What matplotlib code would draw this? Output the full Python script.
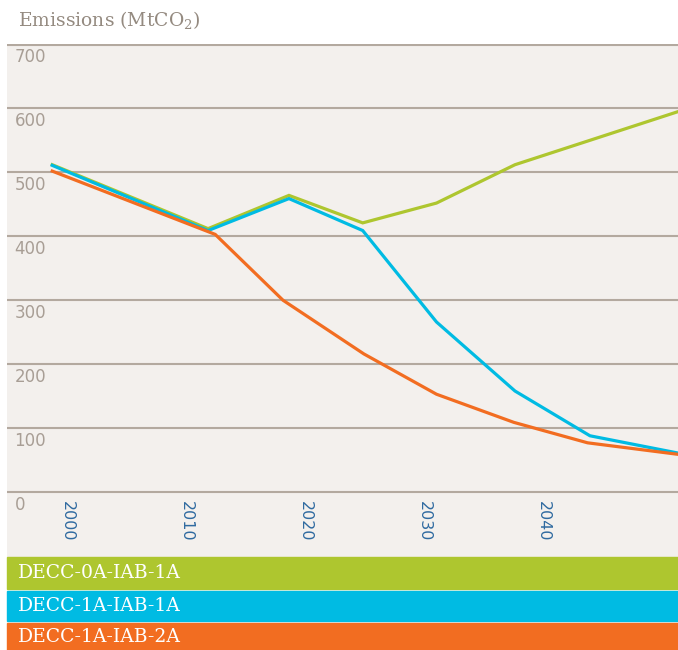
import matplotlib.pyplot as plt
from matplotlib.patches import Rectangle
from matplotlib.transforms import blended_transform_factory

plt.rcParams['mathtext.fontset'] = 'dejavuserif'

# data
series_names = ['DECC-0A-IAB-1A', 'DECC-1A-IAB-1A', 'DECC-1A-IAB-2A']
series_colors = ['#aec62f', '#00bbe3', '#f26d21']

years_0a_1a = [1998.7, 2011.8, 2018.6, 2024.8, 2031.0, 2037.6, 2051.3]
emis_0a_1a = [512, 412, 464, 421, 452, 512, 595]

years_1a_1a = [1998.7, 2011.8, 2018.6, 2024.8, 2031.0, 2037.6, 2043.9, 2051.3]
emis_1a_1a = [511, 409, 459, 409, 266, 158, 88, 61]

years_1a_2a = [1998.7, 2012.4, 2018.1, 2024.9, 2031.0, 2037.5, 2043.7, 2051.3]
emis_1a_2a = [502, 403, 300, 216, 153, 109, 77, 59]

y_ticks = [0, 100, 200, 300, 400, 500, 600, 700]
x_ticks = [2000, 2010, 2020, 2030, 2040]

bg = '#f3f0ed'
grid_col = '#b3a99f'
label_col = '#a89e95'

W, H = 678, 650
fig = plt.figure(figsize=(W / 100, H / 100), dpi=100)
fig.patch.set_facecolor('white')

ax = fig.add_axes([7 / W, (H - 557) / H, 671 / W, (557 - 44) / H])
ax.set_facecolor(bg)
for s in ax.spines.values():
    s.set_visible(False)
ax.set_xlim(1994.9, 2051.3)
ax.set_ylim(-101.6, 700.8)
ax.set_xticks([])
ax.set_yticks([])

for v in y_ticks:
    ax.axhline(v, color=grid_col, lw=1.5, zorder=1)

trans_y = blended_transform_factory(ax.transAxes, ax.transData)
for v in y_ticks:
    ax.text(0.011, v - 6, str(v), transform=trans_y, ha='left', va='top',
            fontsize=12, color=label_col, family='DejaVu Sans')

for yr in x_ticks:
    ax.text(yr, -14, str(yr), ha='center', va='top', rotation=-90,
            fontsize=11.5, color='#2f6aa0', family='DejaVu Sans')

all_x = [years_0a_1a, years_1a_1a, years_1a_2a]
all_y = [emis_0a_1a, emis_1a_1a, emis_1a_2a]
for xs, ys, c in zip(all_x, all_y, series_colors):
    ax.plot(xs, ys, color=c, lw=2.3, zorder=3, solid_joinstyle='miter')

fig.text(18 / W, 1 - 20 / H, 'Emissions (MtCO$_2$)', ha='left', va='center',
         fontsize=13.5, color='#948a80', family='DejaVu Serif')

# legend bars at the bottom
bar_tops = [557, 591, 623]
bar_bottoms = [589, 621, 650]
for name, c, t, b in zip(series_names, series_colors, bar_tops, bar_bottoms):
    fig.patches.append(Rectangle((7 / W, 1 - b / H), 671 / W, (b - t) / H,
                                 transform=fig.transFigure, color=c, zorder=0))
    fig.text(18 / W, 1 - (t + b) / 2 / H, name, ha='left', va='center',
             fontsize=13.5, color='white', family='DejaVu Serif')

fig.savefig('out.png', dpi=100, facecolor='white')
